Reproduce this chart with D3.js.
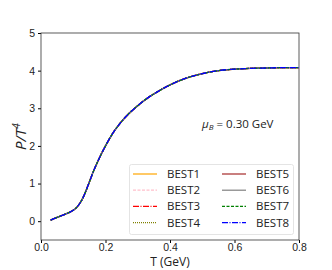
<!DOCTYPE html>
<html>
<head>
<meta charset="utf-8">
<script src="https://cdn.jsdelivr.net/npm/d3@7"></script>
<style>
    body { margin: 0; background: white; }
    svg { font-family: 'Open Sans', sans-serif; }
</style>
</head>
<body>
<svg id="chart"></svg>
<script>
'use strict';

// temperature grid (GeV) and P/T^4
const temps = [0.03, 0.05, 0.07, 0.09, 0.10, 0.11, 0.12, 0.13, 0.14, 0.15, 0.16, 0.18, 0.20, 0.22,
    0.25, 0.28, 0.30, 0.33, 0.35, 0.40, 0.45, 0.50, 0.55, 0.60, 0.65, 0.70, 0.75, 0.80];
const pressure = [0.03, 0.10, 0.17, 0.24, 0.29, 0.36, 0.47, 0.62, 0.82, 1.04, 1.27, 1.66, 2.00, 2.30,
    2.65, 2.92, 3.07, 3.27, 3.38, 3.62, 3.80, 3.92, 4.00, 4.04, 4.06, 4.07, 4.08, 4.08];

const seriesNames = ['BEST1', 'BEST2', 'BEST3', 'BEST4', 'BEST5', 'BEST6', 'BEST7', 'BEST8'];
const seriesColors = ['#ffa500', '#ffc0cb', '#ff0000', '#808000', '#a52a2a', '#808080', '#008000', '#0000ff'];
const seriesDash = [null, '3,1.5', '6,1.5,1,1.5', '1,1', null, null, '3,1.5', '6,1.5,1,1.5'];

const xTicks = [0.0, 0.2, 0.4, 0.6, 0.8];
const yTicks = [0, 1, 2, 3, 4, 5];

const width = 332, height = 270;
const margin = {top: 33, right: 33, bottom: 30, left: 41};

const svg = d3.select('#chart')
    .attr('width', width)
    .attr('height', height);

const x = d3.scaleLinear().domain([0, 0.8]).range([margin.left, width - margin.right]);
const y = d3.scaleLinear().domain([-0.5, 5]).range([height - margin.bottom, margin.top]);

svg.append('g')
    .attr('transform', `translate(0,${height - margin.bottom})`)
    .call(d3.axisBottom(x).tickValues(xTicks).tickFormat(d3.format('.1f')).tickSize(3).tickPadding(1))
    .call(g => g.selectAll('text').attr('font-size', 10.5).attr('fill', '#222'));

svg.append('g')
    .attr('transform', `translate(${margin.left},0)`)
    .call(d3.axisLeft(y).tickValues(yTicks).tickFormat(d3.format('d')).tickSize(3).tickPadding(3))
    .call(g => g.selectAll('text').attr('font-size', 10.5).attr('fill', '#222'));

svg.selectAll('.domain').remove();
svg.append('rect')
    .attr('x', margin.left)
    .attr('y', margin.top)
    .attr('width', width - margin.left - margin.right)
    .attr('height', height - margin.top - margin.bottom)
    .attr('fill', 'none')
    .attr('stroke', '#333')
    .attr('stroke-width', 0.8);

const line = d3.line()
    .x((d, i) => x(temps[i]))
    .y(d => y(d))
    .curve(d3.curveMonotoneX);

svg.append('g')
    .selectAll('path')
    .data(seriesNames)
    .join('path')
    .attr('d', () => line(pressure))
    .attr('fill', 'none')
    .attr('stroke', (d, i) => seriesColors[i])
    .attr('stroke-width', 1.3)
    .attr('stroke-dasharray', (d, i) => seriesDash[i]);

svg.append('text')
    .attr('x', x(0.4))
    .attr('y', 266)
    .attr('text-anchor', 'middle')
    .attr('font-size', 12)
    .attr('fill', '#222')
    .text('T (GeV)');

svg.append('text')
    .attr('transform', `translate(26,${(margin.top + height - margin.bottom) / 2}) rotate(-90)`)
    .attr('text-anchor', 'middle')
    .attr('font-size', 15)
    .attr('font-style', 'italic')
    .attr('fill', '#222')
    .call(t => {
        t.append('tspan').text('P/T');
        t.append('tspan').attr('dy', -6).attr('font-size', 10).text('4');
    });

const mu = svg.append('text')
    .attr('x', 202)
    .attr('y', 128)
    .attr('font-size', 11.5)
    .attr('fill', '#222');
mu.append('tspan').attr('font-style', 'italic').text('μ');
mu.append('tspan').attr('font-style', 'italic').attr('font-size', 8).attr('dy', 2).text('B');
mu.append('tspan').attr('dy', -2).text(' = 0.30 GeV');

// legend
const legend = svg.append('g');
legend.append('rect')
    .attr('x', 129.5)
    .attr('y', 164.5)
    .attr('width', 164)
    .attr('height', 70)
    .attr('rx', 2)
    .attr('fill', 'white')
    .attr('stroke', '#ddd')
    .attr('stroke-width', 0.8);

const item = legend.selectAll('g')
    .data(seriesNames)
    .join('g')
    .attr('transform', (d, i) => `translate(${i < 4 ? 133 : 222},${174 + (i % 4) * 16.2})`);

item.append('line')
    .attr('x1', 0)
    .attr('x2', 24)
    .attr('stroke', (d, i) => seriesColors[i])
    .attr('stroke-width', 1.2)
    .attr('stroke-dasharray', (d, i) => seriesDash[i]);

item.append('text')
    .attr('x', 34)
    .attr('dy', '0.35em')
    .attr('font-size', 11.5)
    .attr('fill', '#222')
    .text(d => d);
</script>
</body>
</html>
